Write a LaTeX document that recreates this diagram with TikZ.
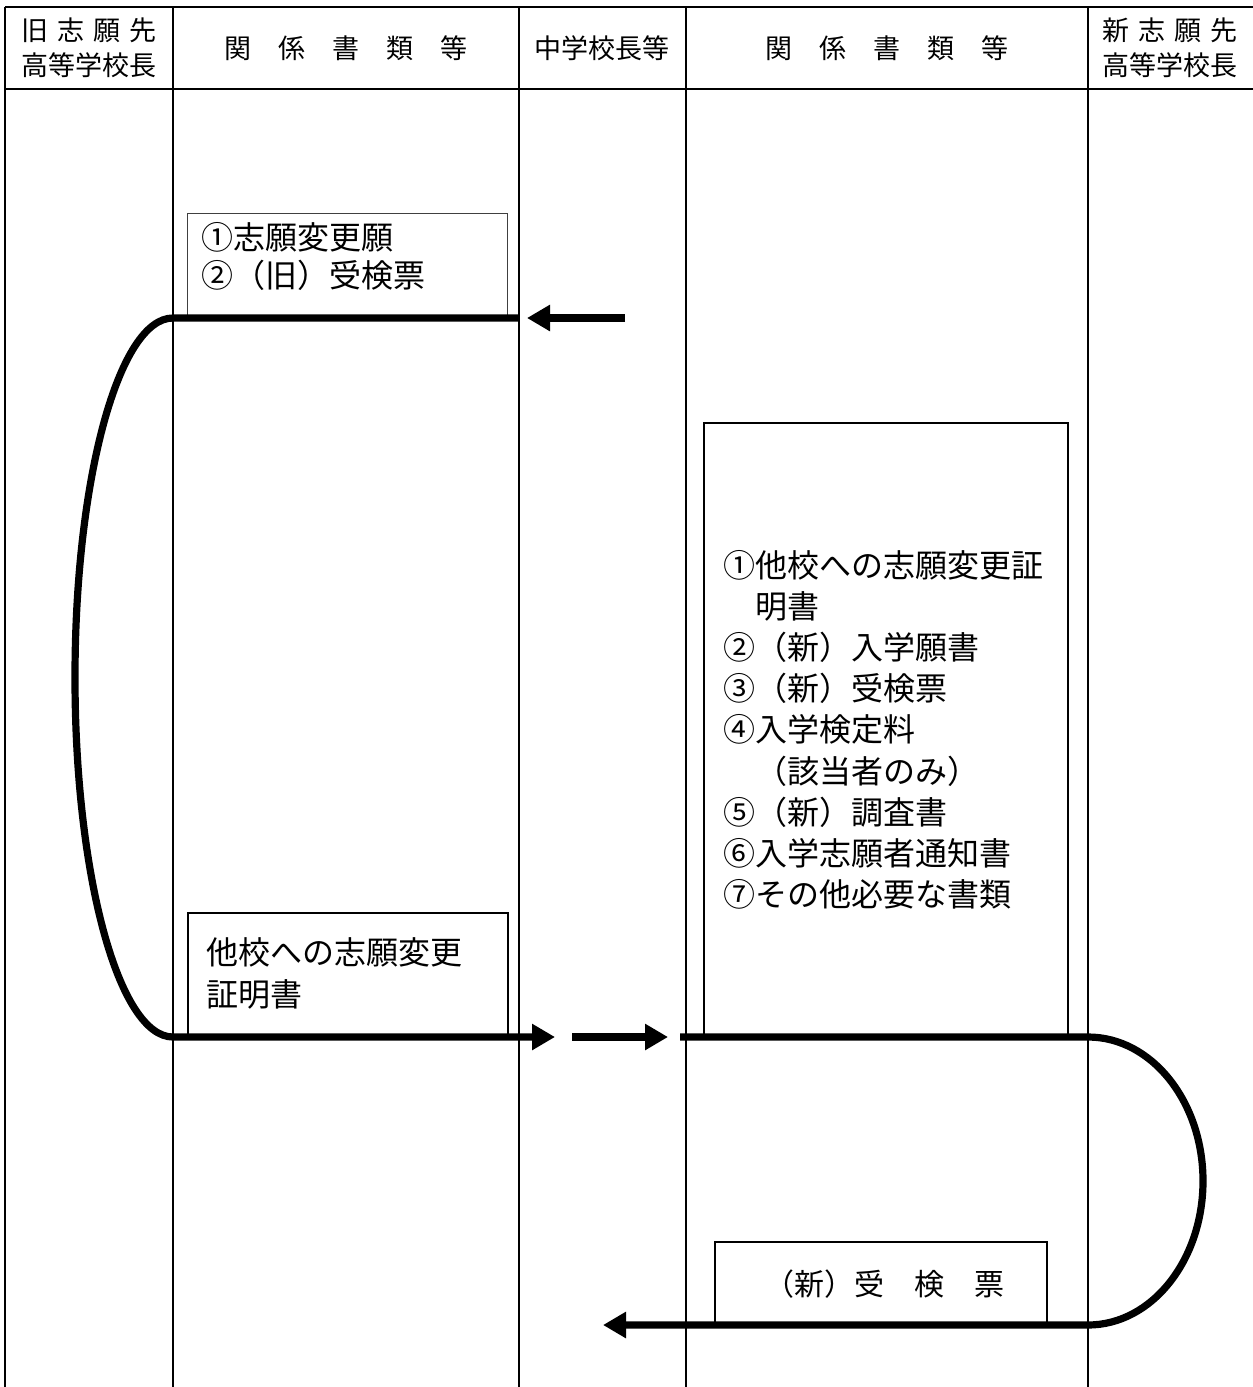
\documentclass[tikz,border=0pt]{standalone}
\usepackage{fontspec}
\setmainfont{Noto Sans CJK JP}
\usetikzlibrary{arrows.meta,positioning}
\tikzset{>={Triangle[length=11.5pt,width=12.5pt]}}

\begin{document}
\begin{tikzpicture}[x=0.5pt,y=-0.5pt,line width=1pt,
  docbox/.style={draw,line width=0.8pt,anchor=north west,inner sep=0pt},
  doctext/.style={anchor=north west,inner sep=0pt,align=left},
  head/.style={align=center,inner sep=0pt,font=\fontsize{13.5pt}{17.5pt}\selectfont},
  flow/.style={line width=3.6pt}]
  \useasboundingbox (0,0) rectangle (1253,1387);
  % lanes
  \draw (5,7) -- (1253,7);
  \draw (5,89) -- (1253,89);
  \foreach \x in {5,173,519,686,1088}
    \draw (\x,7) -- (\x,1387);
  % headings
  \node[head] (oldhead) at (89,48) {旧\hspace{.33em}志\hspace{.33em}願\hspace{.33em}先\\高等学校長};
  \node[head] (docs1) at (346,48) {関　係　書　類　等};
  \node[head] (jhs) at (602,48) {中学校長等};
  \node[head] (docs2) at (887,48) {関　係　書　類　等};
  \node[head] (newhead) at (1170,48) {新\hspace{.33em}志\hspace{.33em}願\hspace{.33em}先\\高等学校長};
  % request box
  \node[docbox,draw=black!75,line width=0.6pt,minimum width=160pt,minimum height=52.5pt] (req) at (187,213) {};
  \node[doctext,font=\fontsize{16pt}{19pt}\selectfont,below right=4pt and 6.5pt of req.north west] (reqtext)
    {①志願変更願\\②（旧）受検票};
  % certificate box
  \node[docbox,minimum width=160pt,minimum height=62.5pt] (cert) at (187,912) {};
  \node[doctext,font=\fontsize{16pt}{21pt}\selectfont,below right=12.5pt and 9pt of cert.north west] (certtext)
    {他校への志願変更\\証明書};
  % application box
  \node[docbox,line width=1pt,minimum width=182pt,minimum height=307.5pt] (appl) at (703,422) {};
  \node[doctext,font=\fontsize{16pt}{20.6pt}\selectfont,below right=63.5pt and 9.5pt of appl.north west] (appltext)
    {①他校への志願変更証\\　明書\\②（新）入学願書\\③（新）受検票\\④入学検定料\\　（該当者のみ）\\⑤（新）調査書\\⑥入学志願者通知書\\⑦その他必要な書類};
  % admission ticket box
  \node[docbox,minimum width=166pt,minimum height=42pt] (ticket) at (714,1241) {};
  \node[inner sep=0pt,font=\fontsize{15pt}{18pt}\selectfont,xshift=2pt] (tickettext) at (ticket.center) {（新）受　検　票};
  % flow points
  \coordinate (jhsin) at (625,318);
  \coordinate (jhsout) at (527,318);
  \coordinate (reqend) at (519,318);
  \coordinate (oldtop) at (173,318);
  \coordinate (certend) at (555,1037);
  \coordinate (jhsfrom) at (572,1037);
  \coordinate (jhsto) at (668,1037);
  \coordinate (applstart) at (680,1037);
  \coordinate (newtop) at (1088,1037);
  \coordinate (ticketend) at (603,1325);
  % flows
  \draw[flow,->] (jhsin) -- (jhsout);
  \draw[flow,->] (reqend) -- (oldtop)
    arc[start angle=270,end angle=90,x radius=98,y radius=359.5] -- (certend);
  \draw[flow,->] (jhsfrom) -- (jhsto);
  \draw[flow,->] (applstart) -- (newtop)
    arc[start angle=-90,end angle=90,x radius=115,y radius=144] -- (ticketend);
\end{tikzpicture}
\end{document}
